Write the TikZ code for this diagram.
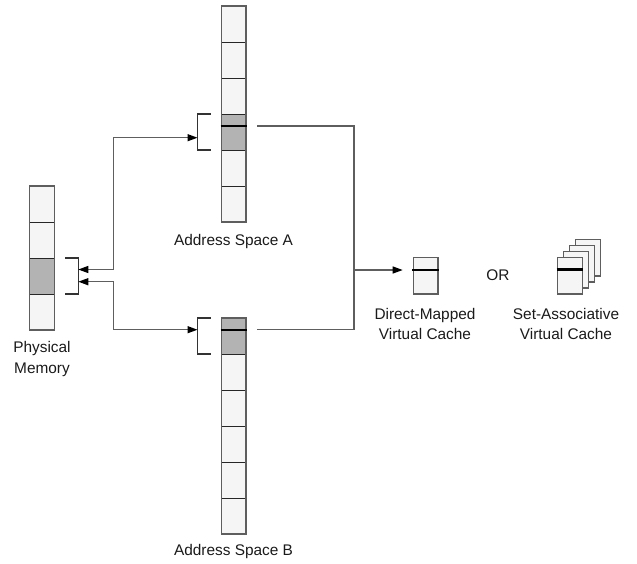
\documentclass[tikz,border=0pt]{standalone}
\usepackage{fontspec}
\setmainfont{Liberation Sans}
\usetikzlibrary{arrows.meta}
\definecolor{cellfill}{HTML}{F5F5F5}
\definecolor{shade}{HTML}{B3B3B3}
\definecolor{edge}{HTML}{5E5E5E}
\definecolor{ink}{HTML}{1A1A1A}

\begin{document}
\begin{tikzpicture}[x=1pt,y=-1pt,
  cellnode/.style={rectangle, draw=black!85, line width=1pt, fill=cellfill,
    minimum width=24.5pt, minimum height=36pt, inner sep=0pt, outer sep=0pt},
  hot/.style={fill=shade},
  outline/.style={draw=edge, line width=1.3pt},
  tagline/.style={draw=black, line width=2.2pt},
  bracket/.style={draw=black!80, line width=1.3pt},
  wire/.style={draw=edge, line width=1.3pt},
  tiphead/.tip={Triangle[length=10pt,width=7pt,color=black]},
  label/.style={font=\fontsize{15.4}{19.5}\selectfont, text=ink, inner sep=0pt, align=center}]

\useasboundingbox (0,0) rectangle (637,563);

% ---------- address space A ----------
\foreach \i in {0,...,5}
  \node[cellnode] (A\i) at (233.75, {24+36*\i}) {};
\node[cellnode, hot] at (A3) {};
\draw[outline] (A0.north west) rectangle (A5.south east);
\draw[tagline] ([xshift=-1pt]A3.west |- 0,126) -- ([xshift=1pt]A3.east |- 0,126);
\draw[bracket] ([xshift=-11pt]A3.north west) -- ([xshift=-24pt]A3.north west)
  -- ([xshift=-24pt]A3.south west) -- ([xshift=-11pt]A3.south west);

% ---------- address space B ----------
\foreach \i in {0,...,5}
  \node[cellnode] (B\i) at (233.75, {336+36*\i}) {};
\node[cellnode, hot] at (B0) {};
\draw[outline] (B0.north west) rectangle (B5.south east);
\draw[tagline] ([xshift=-1pt]B0.west |- 0,329.7) -- ([xshift=1pt]B0.east |- 0,329.7);
\draw[bracket] ([xshift=-11pt]B0.north west) -- ([xshift=-24pt]B0.north west)
  -- ([xshift=-24pt]B0.south west) -- ([xshift=-11pt]B0.south west);

% ---------- physical memory ----------
\foreach \i in {0,...,3}
  \node[cellnode] (P\i) at (42, {204+36*\i}) {};
\node[cellnode, hot] at (P2) {};
\draw[outline] (P0.north west) rectangle (P3.south east);
\draw[bracket] ([xshift=11pt]P2.north east) -- ([xshift=24pt]P2.north east)
  -- ([xshift=24pt]P2.south east) -- ([xshift=11pt]P2.south east);

% ---------- direct-mapped cache ----------
\node[cellnode, draw=edge, line width=1.3pt, minimum height=36.5pt] (dm) at (425.7,275.7) {};
\draw[tagline] ([xshift=-1pt]dm.west |- 0,270) -- ([xshift=1pt]dm.east |- 0,270);

% ---------- set-associative cache (four ways) ----------
\foreach \k in {3,2,1}
  \node[cellnode, draw=edge, line width=1.3pt, minimum height=36.5pt] (sa\k)
    at ({569.9+6*\k}, {275.8-6*\k}) {};
\node[cellnode, draw=edge, line width=1.3pt, minimum height=36.5pt] (sa0) at (569.9,275.8) {};
\draw[tagline] ([xshift=-1pt]sa0.west |- 0,269.5) -- ([xshift=1pt]sa0.east |- 0,269.5);

% ---------- connector end points ----------
\coordinate (brA) at (197.5,137.7);
\coordinate (brB) at (197.5,329.7);
\coordinate (pmA) at (78.3,269.5);
\coordinate (pmB) at (78.3,281.7);
\coordinate (jA) at (113.7,269.5);
\coordinate (jB) at (113.7,281.7);
\coordinate (tA) at (257.3,126);
\coordinate (tB) at (257.3,329.7);
\coordinate (busA) at (354,126);
\coordinate (busB) at (354,329.7);
\coordinate (busM) at (354,270);
\coordinate (dmIn) at (402.7,270);

% ---------- connectors ----------
\draw[wire, tiphead-tiphead] (pmA) -- (jA) |- (brA);
\draw[wire, tiphead-tiphead] (pmB) -- (jB) |- (brB);
\draw[wire] (tA) -- (busA) -- (busB) -- (tB);
\draw[wire, -tiphead] (busM) -- (dmIn);

% ---------- labels ----------
\node[label, anchor=base] (lblA) at (233.5,245.7) {Address Space A};
\node[label, anchor=base] (lblB) at (233.5,555.5) {Address Space B};
\node[label, anchor=north] (lblPM) at (42,341.5) {Physical\\[1.5pt]Memory};
\node[label, anchor=north] (lblDM) at (425,308.3) {Direct-Mapped\\Virtual Cache};
\node[label, anchor=north] (lblSA) at (566,308.3) {Set-Associative\\Virtual Cache};
\node[label, anchor=base] (lblOR) at (498,280.7) {OR};
\end{tikzpicture}
\end{document}
